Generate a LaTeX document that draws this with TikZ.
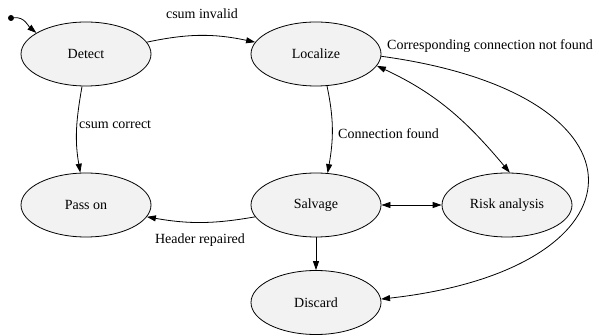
\documentclass[tikz,border=0pt]{standalone}
\usepackage{fontspec}
\setmainfont{Liberation Serif}
\usetikzlibrary{shapes.geometric,arrows.meta}
\definecolor{statefill}{RGB}{242,242,242}
\tikzset{
  state/.style={ellipse,draw,line width=0.8pt,fill=statefill,minimum width=130pt,minimum height=64pt,inner sep=0pt,font=\fontsize{14}{16}\selectfont},
  lbl/.style={font=\fontsize{14}{16}\selectfont,inner sep=0pt},
  edge/.style={line width=0.8pt,-{Triangle[length=9pt,width=6pt]}},
  dedge/.style={line width=0.8pt,{Triangle[length=9pt,width=6pt]}-{Triangle[length=9pt,width=6pt]}}
}
\begin{document}
\begin{tikzpicture}[x=1pt,y=1pt]
\useasboundingbox (0,0) rectangle (599,-336);
\node[circle,fill=black,inner sep=0pt,minimum size=6pt] (init) at (11,-18) {};
\node[state] (detect) at (86,-54) {Detect};
\node[state] (localize) at (316,-54) {Localize};
\node[state] (passon) at (86,-205) {Pass on};
\node[state] (salvage) at (316,-205) {Salvage};
\node[state] (risk) at (507,-205) {Risk analysis};
\node[state] (discard) at (316,-302.5) {Discard};

\draw[edge] (init) to[out=5,in=140] (detect.157);
\draw[edge] (detect.11) to[out=12,in=168] (localize.169);
\node[lbl] (l1) at (202,-14) {csum invalid};
\draw[edge] (detect.263) to[out=260,in=100] (passon.100);
\node[lbl,anchor=west] (l2) at (79,-125) {csum correct};
\draw[edge] (localize.-71) to[out=-78,in=80] (salvage.70);
\node[lbl,anchor=west] (l3) at (338,-134) {Connection found};
\draw[dedge] (localize.-11) to[out=-25,in=130] (risk.85);
\draw[edge] (localize.-2) .. controls +(280,-38) and +(270,30) .. (discard.3);
\node[lbl,anchor=west] (l4) at (387,-46) {Corresponding connection not found};
\draw[dedge] (salvage) -- (risk);
\draw[edge] (salvage.191) to[out=190,in=-10] (passon.-11);
\node[lbl] (l5) at (200,-240) {Header repaired};
\draw[edge] (salvage) -- (discard);
\end{tikzpicture}
\end{document}
